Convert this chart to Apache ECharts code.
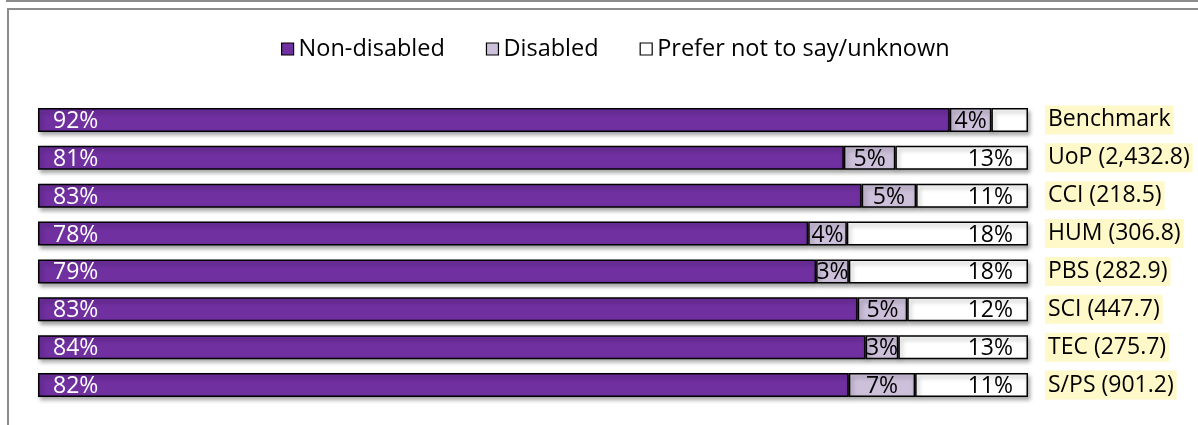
<!DOCTYPE html>
<html>
<head>
<meta charset="utf-8">
<script src="https://cdn.jsdelivr.net/npm/echarts@6/dist/echarts.min.js"></script>
<style>
html,body{margin:0;padding:0;background:#fff;}
#chart{width:1198px;height:425px;}
</style>
</head>
<body>
<div id="chart"></div>
<script>
const categories = ['Benchmark', 'UoP (2,432.8)', 'CCI (218.5)', 'HUM (306.8)', 'PBS (282.9)', 'SCI (447.7)', 'TEC (275.7)', 'S/PS (901.2)'];
const seriesNames = ['Non-disabled', 'Disabled', 'Prefer not to say/unknown'];
const nonDisabled = [92.1, 81.4, 83.2, 77.8, 78.6, 82.8, 83.6, 81.9];
const disabled    = [4.2, 5.2, 5.5, 3.9, 3.3, 5.0, 3.3, 6.7];
const unknown     = [3.7, 13.4, 11.3, 18.3, 18.1, 12.2, 13.1, 11.4];
const nonLabels = ['92%', '81%', '83%', '78%', '79%', '83%', '84%', '82%'];
const disLabels = ['4%', '5%', '5%', '4%', '3%', '5%', '3%', '7%'];
const unkLabels = ['', '13%', '11%', '18%', '18%', '12%', '13%', '11%'];

const FONT = '"Open Sans"';
const colors = ['#7030A0', '#CCC0DA', '#FFFFFF'];
const labelArrays = [nonLabels, disLabels, unkLabels];
const valueArrays = [nonDisabled, disabled, unknown];
const labelPos = [
  {position: 'insideLeft', distance: 15, color: '#FFFFFF'},
  {position: 'inside', distance: 0, color: '#000000'},
  {position: 'insideRight', distance: 15, color: '#000000'}
];

const chart = echarts.init(document.getElementById('chart'), null, {renderer: 'canvas'});
const series = seriesNames.map((name, i) => ({
  name: name,
  type: 'bar',
  stack: 'total',
  barWidth: 24,
  data: valueArrays[i],
  itemStyle: {
    color: colors[i],
    borderColor: '#000000',
    borderWidth: 1.5,
    shadowColor: 'rgba(0,0,0,0.35)',
    shadowBlur: 4,
    shadowOffsetX: 2,
    shadowOffsetY: 3
  },
  label: {
    show: true,
    position: labelPos[i].position,
    distance: labelPos[i].distance,
    offset: [0, 1.5],
    color: labelPos[i].color,
    fontFamily: FONT,
    fontSize: 23,
    formatter: p => labelArrays[i][p.dataIndex]
  },
  emphasis: {disabled: true}
}));

chart.setOption({
  animation: false,
  backgroundColor: '#FFFFFF',
  graphic: [
    {type: 'rect', shape: {x: 7, y: -20, width: 1300, height: 21}, style: {fill: 'none', stroke: '#8C8C8C', lineWidth: 2}},
    {type: 'rect', shape: {x: 8, y: 9, width: 1300, height: 500}, style: {fill: 'none', stroke: '#8C8C8C', lineWidth: 2}}
  ],
  legend: {
    top: 32,
    left: 276,
    itemWidth: 12,
    itemHeight: 12,
    itemGap: 41,
    icon: 'rect',
    itemStyle: {borderColor: '#000000', borderWidth: 1.2, shadowBlur: 0, shadowOffsetX: 0, shadowOffsetY: 0},
    textStyle: {fontFamily: FONT, fontSize: 23.5, color: '#000000'},
    data: seriesNames
  },
  grid: {left: 38, right: 170, top: 101, bottom: 21},
  xAxis: {type: 'value', min: 0, max: 100, show: false},
  yAxis: {
    type: 'category',
    data: categories,
    inverse: true,
    position: 'right',
    axisLine: {show: false},
    axisTick: {show: false},
    splitLine: {show: false},
    axisLabel: {
      margin: 17,
      fontFamily: FONT,
      fontSize: 23,
      color: '#000000',
      backgroundColor: '#FFF8C8',
      padding: [4, 3, 2, 3]
    }
  },
  series: series
});
</script>
</body>
</html>
